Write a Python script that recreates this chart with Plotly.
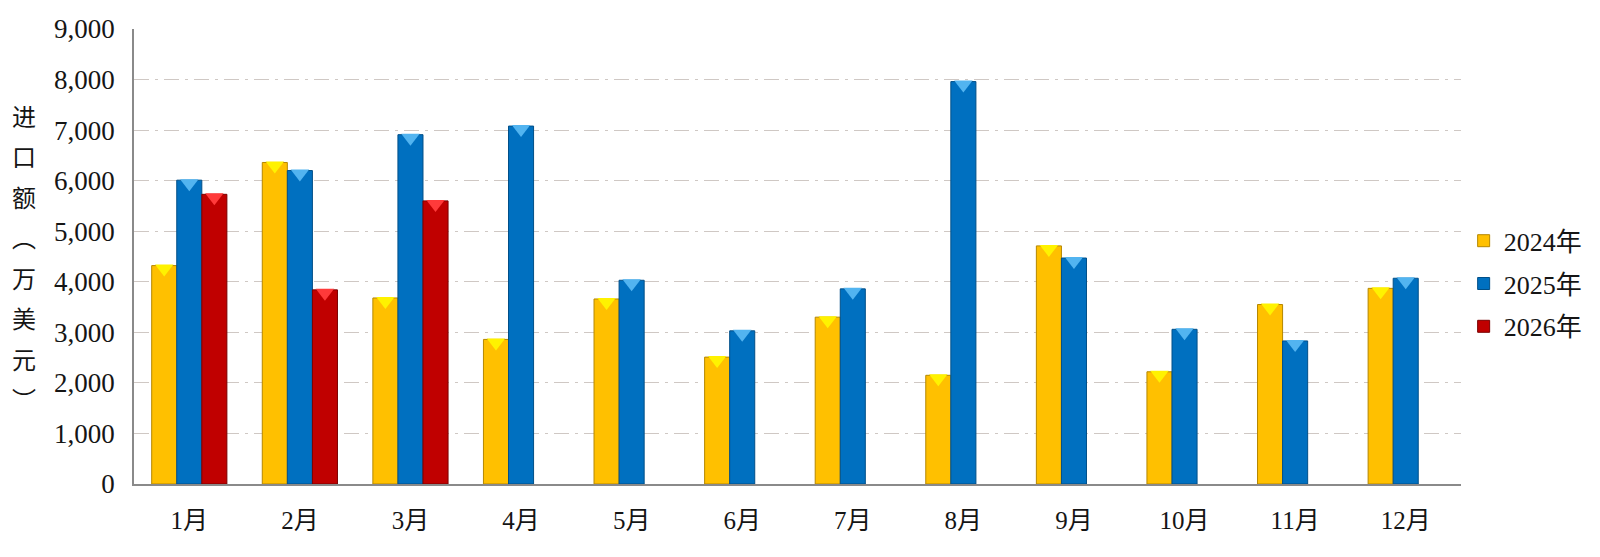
import plotly.graph_objects as go

months = ["1月", "2月", "3月", "4月", "5月", "6月", "7月", "8月", "9月", "10月", "11月", "12月"]
series_names = ["2024年", "2025年", "2026年"]
v2024 = [4320, 6360, 3680, 2860, 3660, 2510, 3300, 2150, 4710, 2220, 3550, 3870]
v2025 = [6010, 6200, 6910, 7080, 4030, 3030, 3860, 7960, 4470, 3060, 2830, 4070]
v2026 = [5730, 3840, 5600, None, None, None, None, None, None, None, None, None]
y_ticks = [0, 1000, 2000, 3000, 4000, 5000, 6000, 7000, 8000, 9000]
y_title_chars = ["进", "口", "额", "︵", "万", "美", "元", "︶"]

series_values = [v2024, v2025, v2026]
fill_colors = ["#FFC000", "#0070C0", "#C00000"]
edge_colors = ["#B58700", "#004F88", "#7A0000"]
top_colors = ["#FFF200", "#52B4F0", "#FF3A3A"]

W, H = 1600, 557
ML, MR, MT, MB = 134, 136, 29, 73

fig = go.Figure()
for name, vals, fc, ec in zip(series_names, series_values, fill_colors, edge_colors):
    fig.add_trace(go.Bar(
        x=months, y=vals, name=name, offsetgroup=name, legendgroup=name,
        marker=dict(color=fc, line=dict(color=ec, width=1)),
    ))
for name, vals, tc in zip(series_names, series_values, top_colors):
    fig.add_trace(go.Scatter(
        x=months, y=vals, mode="markers", offsetgroup=name, showlegend=False,
        hoverinfo="skip",
        marker=dict(symbol="triangle-down", angle=0, standoff=3, size=16,
                    color=tc, line=dict(width=0)),
    ))

serif = "Liberation Serif, Noto Sans CJK SC"

fig.update_layout(
    width=W, height=H,
    margin=dict(l=ML, r=MR, t=MT, b=MB, pad=0),
    paper_bgcolor="white", plot_bgcolor="white",
    barmode="group", bargap=0.32, bargroupgap=0,
    scattermode="group", scattergap=0.32,
    font=dict(family=serif, size=25, color="#151515"),
    showlegend=True,
    legend=dict(x=1.002, xanchor="left", y=0.44, yanchor="middle",
                font=dict(family=serif, size=26, color="#151515"),
                tracegroupgap=6, bgcolor="rgba(0,0,0,0)", itemwidth=30),
    xaxis=dict(showline=True, linecolor="#8A8A8A", linewidth=1.5,
               showgrid=False, ticks="", ticklabelstandoff=13,
               tickfont=dict(family=serif, size=25, color="#151515")),
    yaxis=dict(range=[0, 9000], tickvals=y_ticks, tickformat=",d",
               showline=True, linecolor="#8A8A8A", linewidth=1.5,
               showgrid=True, gridcolor="#CFC8C4", griddash="longdashdot", gridwidth=1,
               zeroline=False, ticks="", ticklabelstandoff=12,
               tickfont=dict(family=serif, size=27, color="#151515")),
)

plot_h = H - MT - MB
for i, ch in enumerate(y_title_chars):
    ypix = 115 + i * 40.5
    fig.add_annotation(
        text=ch, xref="paper", yref="paper",
        x=(23.5 - ML) / (W - ML - MR), y=(H - MB - ypix) / plot_h,
        xanchor="center", yanchor="middle", showarrow=False,
        font=dict(family="Noto Sans CJK SC", size=24, color="#151515"),
    )

fig.write_html("out.html")
